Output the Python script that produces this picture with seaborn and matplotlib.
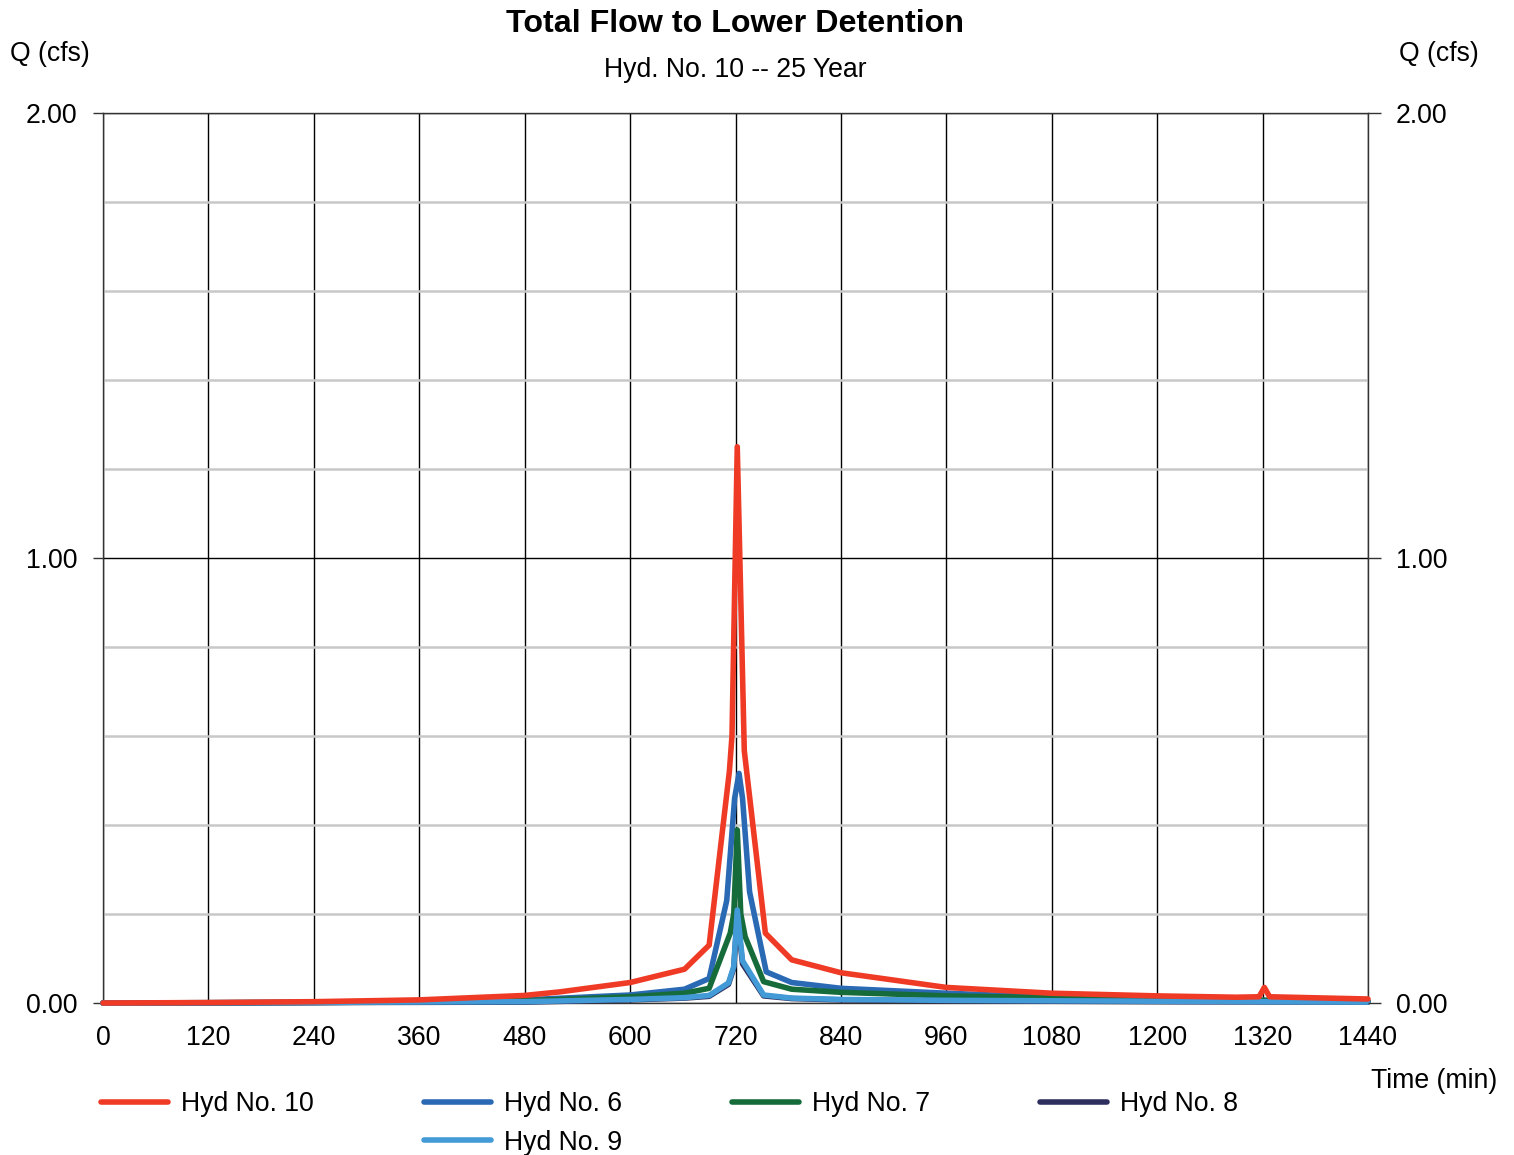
import numpy as np
import pandas as pd
import matplotlib
matplotlib.use("Agg")
import matplotlib.pyplot as plt
from matplotlib.lines import Line2D
import seaborn as sns

# Hydrograph ordinates: time (min) and flow Q (cfs) for each hydrograph
t10 = [0, 120, 240, 360, 480, 520, 600, 662, 690, 713, 716, 722, 730, 754, 784, 840, 960, 1080, 1200, 1290, 1316, 1322, 1328, 1440]
q10 = [0.000, 0.001, 0.003, 0.007, 0.017, 0.025, 0.046, 0.076, 0.130, 0.520, 0.600, 1.250, 0.567, 0.157, 0.097, 0.068, 0.035, 0.022, 0.016, 0.013, 0.014, 0.035, 0.014, 0.009]

t6 = [0, 240, 360, 480, 600, 662, 690, 710, 719, 724, 728, 736, 755, 784, 840, 960, 1080, 1200, 1320, 1440]
q6 = [0.000, 0.001, 0.003, 0.007, 0.018, 0.031, 0.055, 0.230, 0.460, 0.516, 0.460, 0.250, 0.070, 0.046, 0.033, 0.022, 0.013, 0.009, 0.006, 0.004]

t7 = [0, 360, 480, 600, 662, 690, 714, 718, 722, 726, 731, 752, 784, 840, 960, 1080, 1200, 1440]
q7 = [0.000, 0.002, 0.005, 0.014, 0.022, 0.033, 0.157, 0.200, 0.389, 0.200, 0.149, 0.048, 0.031, 0.024, 0.016, 0.012, 0.008, 0.004]

t8 = [0, 480, 600, 662, 690, 712, 718, 722, 728, 752, 784, 840, 960, 1080, 1200, 1440]
q8 = [0.000, 0.002, 0.007, 0.011, 0.015, 0.042, 0.078, 0.195, 0.088, 0.016, 0.010, 0.007, 0.005, 0.004, 0.003, 0.002]

t9 = [0, 480, 600, 662, 690, 712, 718, 722, 728, 752, 784, 840, 960, 1080, 1200, 1440]
q9 = [0.000, 0.003, 0.008, 0.012, 0.017, 0.045, 0.082, 0.209, 0.095, 0.018, 0.011, 0.008, 0.006, 0.005, 0.004, 0.002]

x_ticks = list(range(0, 1441, 120))
y_ticks = [0.0, 1.0, 2.0]
y_tick_labels = ["0.00", "1.00", "2.00"]

series_names = ["Hyd No. 6", "Hyd No. 7", "Hyd No. 8", "Hyd No. 9", "Hyd No. 10"]
colors = {
    "Hyd No. 10": "#EF3A25",
    "Hyd No. 6": "#2A69B3",
    "Hyd No. 7": "#166B3A",
    "Hyd No. 8": "#2E2F5E",
    "Hyd No. 9": "#429AD6",
}

frames = []
for name, t, q in [("Hyd No. 6", t6, q6), ("Hyd No. 7", t7, q7),
                   ("Hyd No. 8", t8, q8), ("Hyd No. 9", t9, q9),
                   ("Hyd No. 10", t10, q10)]:
    frames.append(pd.DataFrame({"time": t, "flow": q, "hyd": name}))
df = pd.concat(frames, ignore_index=True)

sns.set_theme(style="white")
plt.rcParams["font.family"] = ["Liberation Sans", "DejaVu Sans"]
plt.rcParams["text.color"] = "black"
plt.rcParams["axes.labelcolor"] = "black"

W, H = 1514, 1155
fig = plt.figure(figsize=(W / 100, H / 100), dpi=100)
ax = fig.add_axes([103 / W, (H - 1003) / H, (1368 - 103) / W, (1003 - 113) / H])

LW = 4.0
sns.lineplot(data=df, x="time", y="flow", hue="hyd", hue_order=series_names,
             palette=colors, estimator=None, sort=True, linewidth=LW,
             legend=False, ax=ax)
for ln in ax.lines:
    ln.set_clip_on(False)
    ln.set_solid_capstyle("round")
    ln.set_solid_joinstyle("round")
    ln.set_zorder(3)

ax.set_xlim(0, 1440)
ax.set_ylim(0, 2)
ax.set_xticks(x_ticks)
ax.set_xticklabels([str(v) for v in x_ticks])
ax.set_yticks(y_ticks)
ax.set_yticklabels(y_tick_labels)
ax.set_yticks([0.2, 0.4, 0.6, 0.8, 1.2, 1.4, 1.6, 1.8], minor=True)

ax.set_axisbelow(True)
ax.grid(which="major", axis="both", color="black", linewidth=1.0)
ax.grid(which="minor", axis="y", color="#C8C8C8", linewidth=1.8)

FS = 19.2
ax.tick_params(axis="x", length=0, pad=15.5, labelsize=FS, colors="black")
ax.tick_params(axis="y", which="major", length=7.5, width=1.0, color="#333333",
               pad=11, labelsize=FS, labelcolor="black")
ax.tick_params(axis="y", which="minor", length=0)

for sp in ax.spines.values():
    sp.set_color("#333333")
    sp.set_linewidth(1.0)

ax2 = ax.twinx()
ax2.set_ylim(0, 2)
ax2.set_yticks(y_ticks)
ax2.set_yticklabels(y_tick_labels)
ax2.tick_params(axis="y", length=9, width=1.0, color="#333333", pad=11,
                labelsize=FS, labelcolor="black")
ax2.grid(False)
for sp in ax2.spines.values():
    sp.set_visible(False)

# Axis titles
ax.set_ylabel("Q (cfs)", rotation=0, fontsize=FS, ha="left", va="center")
ax.yaxis.set_label_coords((10 - 103) / 1265, (1003 - 54) / 890)
ax2.set_ylabel("Q (cfs)", rotation=0, fontsize=FS, ha="right", va="center")
ax2.yaxis.set_label_coords((1479 - 103) / 1265, (1003 - 54) / 890)

ax.set_xlabel("Time (min)", fontsize=FS, loc="right")
ax.xaxis.label.set_va("center")
ax.xaxis.set_label_coords((1497 - 103) / 1265, (1003 - 1081) / 890)

fig.text(735.5 / W, 1 - 24 / H, "Total Flow to Lower Detention", ha="center",
         va="center", fontsize=23.2, fontweight="bold")
fig.text(735.5 / W, 1 - 70 / H, "Hyd. No. 10 -- 25 Year", ha="center",
         va="center", fontsize=FS)

# Legend: four columns, Hyd No. 9 placed under Hyd No. 6
def handle(name):
    return Line2D([], [], color=colors[name], linewidth=LW, solid_capstyle="round", label=name)

blank = Line2D([], [], linestyle="none", label=" ")
handles = [handle("Hyd No. 10"), blank, handle("Hyd No. 6"), handle("Hyd No. 9"),
           handle("Hyd No. 7"), handle("Hyd No. 8")]
em = FS * 100 / 72
fig.legend(handles=handles, labels=[h.get_label() for h in handles], ncol=4,
           loc="upper left", bbox_to_anchor=(101 / W, 1 - 1091 / H),
           frameon=False, fontsize=FS, handlelength=67 / em,
           handletextpad=13 / em, columnspacing=110 / em, borderpad=0,
           borderaxespad=0, labelspacing=0.48)

fig.savefig("out.png", dpi=100)
